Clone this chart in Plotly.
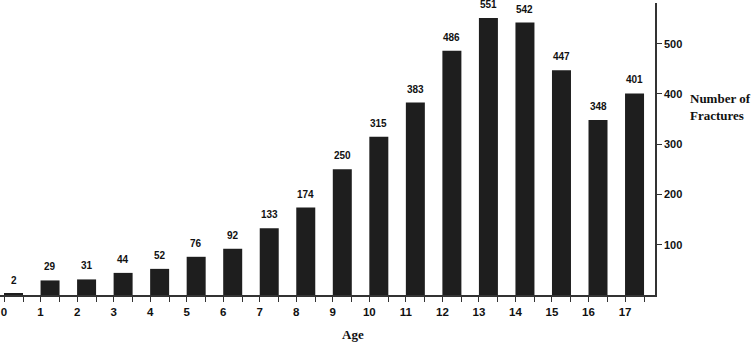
import plotly.graph_objects as go

ages = list(range(18))
fractures = [2, 29, 31, 44, 52, 76, 92, 133, 174, 250, 315, 383, 486, 551, 542, 447, 348, 401]
y_ticks = [100, 200, 300, 400, 500]

BAR_W = 0.52
BAR_COLOR = "#1e1e1e"
SANS = "Liberation Sans, Arial, sans-serif"
SERIF = "Liberation Serif, Times New Roman, serif"

fig = go.Figure()
fig.add_trace(go.Bar(
    x=ages, y=fractures, width=BAR_W, offset=0,
    marker=dict(color=BAR_COLOR, line=dict(width=0)),
    hoverinfo="x+y", cliponaxis=False,
))

for a, v in zip(ages, fractures):
    fig.add_annotation(x=a + BAR_W / 2, y=v, text=str(v), showarrow=False,
                       yanchor="bottom", yshift=6,
                       font=dict(family=SANS, size=10, color="#111", weight="bold"))

tickvals = []
ticktext = []
for a in ages:
    tickvals += [a, a + BAR_W]
    ticktext += [str(a), ""]

fig.update_layout(
    width=753, height=346,
    margin=dict(l=0, r=98, t=3, b=51, autoexpand=False),
    paper_bgcolor="white", plot_bgcolor="white",
    showlegend=False,
    xaxis=dict(
        range=[-0.11, 17.82], tickmode="array", tickvals=tickvals, ticktext=ticktext,
        automargin=False, ticklabeloverflow="allow",
        showgrid=False, zeroline=False, showline=True, linecolor="#333", linewidth=1.5,
        ticks="outside", ticklen=5, tickcolor="#333", tickwidth=1.2,
        tickfont=dict(family=SANS, size=11.5, color="#111", weight="bold"),
    ),
    yaxis=dict(
        range=[0, 581], side="right", tickmode="array", tickvals=y_ticks,
        automargin=False,
        showgrid=False, zeroline=False, showline=True, linecolor="#333", linewidth=1.5,
        ticks="outside", ticklen=5, tickcolor="#333", tickwidth=1.2,
        tickfont=dict(family=SANS, size=11, color="#111", weight="bold"),
    ),
    annotations=list(fig.layout.annotations) + [
        dict(xref="paper", yref="paper", x=1.05, y=0.644, xanchor="left", yanchor="middle",
             text="Number of<br>Fractures", showarrow=False, align="left",
             font=dict(family=SERIF, size=13, color="#111", weight="bold")),
        dict(xref="paper", yref="paper", x=0.539, y=-0.134, xanchor="center", yanchor="middle",
             text="Age", showarrow=False,
             font=dict(family=SERIF, size=13, color="#111", weight="bold")),
    ],
)

fig.write_html("out.html", config={"displayModeBar": False},
               post_script="document.body.style.margin='0';document.body.style.overflow='hidden';")
